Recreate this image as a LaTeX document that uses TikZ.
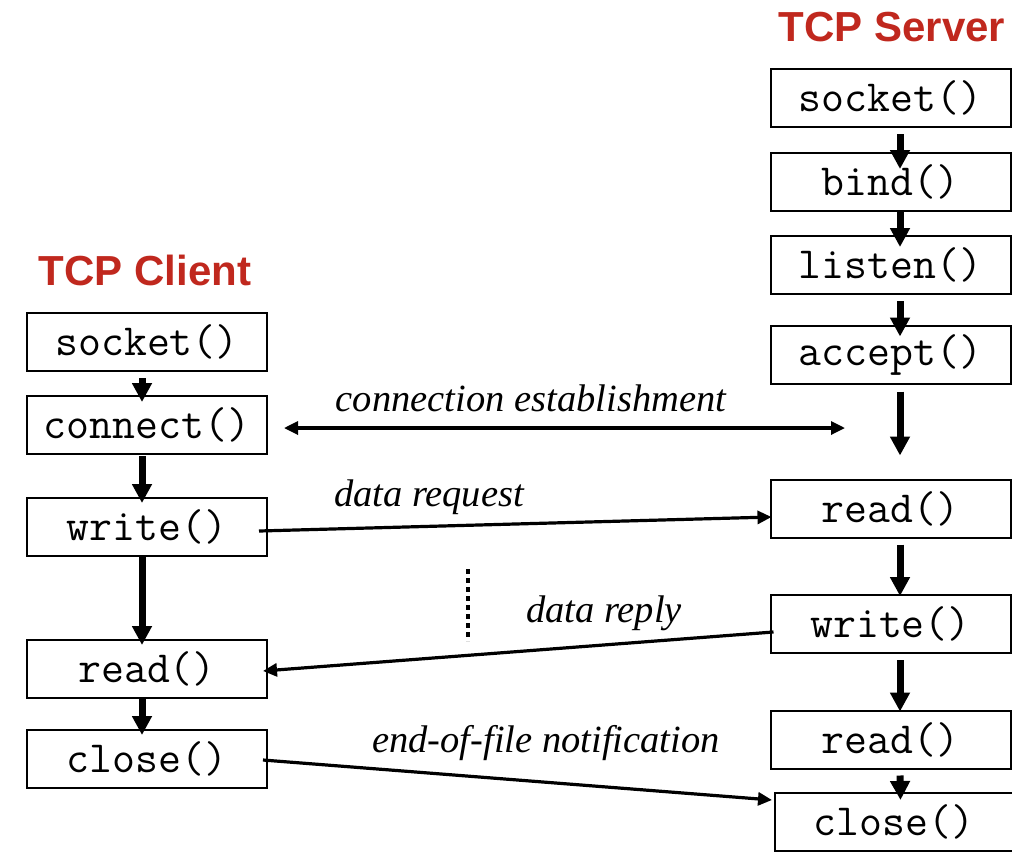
\documentclass[tikz,border=0pt]{standalone}
\usepackage{fontspec}
\setmainfont{Liberation Serif}
\newfontfamily\sansb{Liberation Sans}
\usetikzlibrary{arrows.meta,calc}
\definecolor{titlered}{RGB}{192,40,30}
\tikzset{
  fbox/.style={draw=black,line width=2pt,minimum width=240pt,minimum height=58pt,inner sep=0pt,
    font=\ttfamily\fontsize{44.5}{44.5}\selectfont},
  title/.style={text=titlered,font=\sansb\bfseries\fontsize{42}{42}\selectfont,inner sep=0pt},
  lbl/.style={font=\itshape\fontsize{38.5}{38.5}\selectfont,inner sep=0pt},
  flow/.style={line width=7pt,-{Triangle[length=19pt,width=19pt]}},
  msg/.style={line width=3.2pt,-{Triangle[length=14pt,width=13pt]}},
}
\begin{document}
\begin{tikzpicture}[x=1pt,y=-1pt]
\useasboundingbox (0,0) rectangle (1012,852);
% titles
\node[title] (tc) at (145,270) {TCP Client};
\node[title] (ts) at (892,27) {TCP Server};
% server
\node[fbox] (ssock) at (890.5,98) {socket()};
\node[fbox] (sbind) at (890.5,182) {bind()};
\node[fbox] (slist) at (890.5,265) {listen()};
\node[fbox] (sacc) at (890.5,354.5) {accept()};
\node[fbox] (sread) at (890.5,508.5) {read()};
\node[fbox] (swrite) at (890.5,624) {write()};
\node[fbox] (sread2) at (890.5,739.5) {read()};
\node[fbox,minimum width=238pt] (sclose) at (894,822) {close()};
% client
\node[fbox] (csock) at (147,342) {socket()};
\node[fbox] (cconn) at (147,425) {connect()};
\node[fbox] (cwrite) at (147,527) {write()};
\node[fbox] (cread) at (147,669) {read()};
\node[fbox] (cclose) at (147,759) {close()};
% server flow
\draw[flow] ([xshift=9.5pt,yshift=-6pt]ssock.south) -- ([xshift=9.5pt,yshift=-17pt]sbind.north);
\draw[flow] ([xshift=9.5pt]sbind.south) -- ([xshift=9.5pt,yshift=-12pt]slist.north);
\draw[flow] ([xshift=9.5pt,yshift=-6pt]slist.south) -- ([xshift=9.5pt,yshift=-12pt]sacc.north);
\coordinate (sgap) at ([xshift=9.5pt,yshift=-71pt]sacc.south);
\draw[flow] ([xshift=9.5pt,yshift=-7pt]sacc.south) -- (sgap);
\draw[flow] ([xshift=9.5pt,yshift=-6pt]sread.south) -- ([xshift=9.5pt,yshift=-2pt]swrite.north);
\draw[flow] ([xshift=9.5pt,yshift=-6pt]swrite.south) -- ([xshift=9.5pt,yshift=-2pt]sread2.north);
\draw[flow] ([xshift=9.5pt,yshift=-6pt]sread2.south) -- ([xshift=6.5pt,yshift=-8pt]sclose.north);
% client flow
\draw[flow] ([xshift=-5pt,yshift=-6pt]csock.south) -- ([xshift=-5pt,yshift=-7pt]cconn.north);
\draw[flow] ([xshift=-5pt,yshift=-1pt]cconn.south) -- ([xshift=-5pt,yshift=-6pt]cwrite.north);
\draw[flow] ([xshift=-5pt]cwrite.south) -- ([xshift=-5pt,yshift=-6pt]cread.north);
\draw[flow] ([xshift=-5pt]cread.south) -- ([xshift=-5pt,yshift=-6pt]cclose.north);
% messages
\coordinate (ceL) at ([xshift=16pt,yshift=-3pt]cconn.east);
\coordinate (ceR) at (845,428);
\draw[line width=3.2pt,{Triangle[length=14pt,width=13pt]}-{Triangle[length=14pt,width=13pt]}] (ceL) -- (ceR);
\node[lbl] (lce) at (531,398) {connection establishment};
\draw[msg] ([xshift=-9pt,yshift=-4pt]cwrite.east) -- ([xshift=2pt,yshift=-8.5pt]sread.west);
\node[lbl] (ldr) at (429,497) {data request};
\draw[msg] ([xshift=4pt,yshift=-8pt]swrite.west) -- ([xshift=-5pt,yshift=-2pt]cread.east);
\node[lbl] (lrep) at (604,613) {data reply};
\draw[msg] ([xshift=-5pt,yshift=-1pt]cclose.east) -- ([xshift=-2pt,yshift=22pt]sclose.west);
\node[lbl] (leof) at (546,743) {end-of-file notification};
% dotted
\coordinate (d1) at (468,569);
\coordinate (d2) at (468,641);
\draw[line width=4.5pt,dash pattern=on 5pt off 4pt] (d1) -- (d2);
\end{tikzpicture}
\end{document}
